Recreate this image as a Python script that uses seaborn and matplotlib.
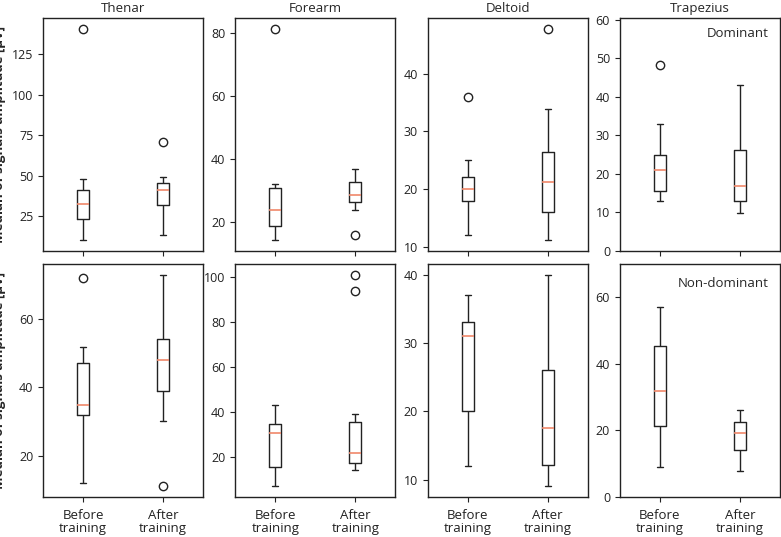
import pandas as pd
import numpy as np
import seaborn as sns
import matplotlib.pyplot as plt

muscles = ["Thenar", "Forearm", "Deltoid", "Trapezius"]
sides = ["Dominant", "Non-dominant"]
phases = ["Before training", "After training"]
phase_labels = ["Before\ntraining", "After\ntraining"]

# dominant side, amplitude samples [uV]
thenar_dom_before = [10, 15, 20, 23, 27, 30, 32.5, 35, 38, 41.2, 44, 48, 141]
thenar_dom_after = [13.4, 22, 28, 31.7, 35, 38, 41, 42.5, 44, 45.2, 47, 49, 71]
forearm_dom_before = [14.2, 16, 18, 18.9, 20.5, 22, 23.8, 26, 29, 30.9, 31.5, 32, 81.4]
forearm_dom_after = [15.8, 23.8, 25, 26.5, 27.2, 28, 28.7, 30, 31.5, 32.8, 34, 35.5, 36.8]
deltoid_dom_before = [12.1, 14, 16.5, 17.9, 18.6, 19.3, 20, 20.6, 21.3, 22, 23, 25, 36]
deltoid_dom_after = [11.1, 13, 15, 16.1, 18, 19.5, 21.2, 23, 25, 26.5, 29, 33.9, 47.8]
trapezius_dom_before = [13.1, 14, 15, 15.6, 17.5, 19, 21, 22.5, 23.8, 24.9, 28, 33, 48.2]
trapezius_dom_after = [9.8, 11, 12, 13, 14.5, 15.8, 17, 19.5, 23, 26.2, 31, 37, 43.2]

# non-dominant side
thenar_nd_before = [12, 24, 29, 32, 33, 34, 34.9, 39, 43, 47.2, 49.5, 51.8, 71.8]
thenar_nd_after = [11, 30.1, 35, 38.9, 42, 45, 48, 50, 52, 54.1, 60, 66, 72.9]
forearm_nd_before = [7, 10, 13, 15.4, 20, 26, 30.9, 32, 33.5, 34.8, 37, 40, 43.3]
forearm_nd_after = [14.1, 15.5, 16.5, 17.5, 19, 20.5, 21.6, 26, 31, 35.6, 38.9, 93.5, 100.9]
deltoid_nd_before = [12, 15, 18, 20, 24, 28, 31, 31.8, 32.5, 33, 34.5, 36, 37]
deltoid_nd_after = [9, 10.5, 11.5, 12.2, 14, 16, 17.5, 20, 23, 26, 31, 36, 40]
trapezius_nd_before = [9, 14, 18, 21.3, 25, 28.5, 31.7, 36, 41, 45.5, 50, 54, 57]
trapezius_nd_after = [7.8, 10, 12, 14.1, 16, 17.8, 19.2, 20.3, 21.5, 22.5, 24, 25.2, 26.2]

samples = {
    ("Dominant", "Thenar"): (thenar_dom_before, thenar_dom_after),
    ("Dominant", "Forearm"): (forearm_dom_before, forearm_dom_after),
    ("Dominant", "Deltoid"): (deltoid_dom_before, deltoid_dom_after),
    ("Dominant", "Trapezius"): (trapezius_dom_before, trapezius_dom_after),
    ("Non-dominant", "Thenar"): (thenar_nd_before, thenar_nd_after),
    ("Non-dominant", "Forearm"): (forearm_nd_before, forearm_nd_after),
    ("Non-dominant", "Deltoid"): (deltoid_nd_before, deltoid_nd_after),
    ("Non-dominant", "Trapezius"): (trapezius_nd_before, trapezius_nd_after),
}

yticks = {
    ("Dominant", "Thenar"): [25, 50, 75, 100, 125],
    ("Dominant", "Forearm"): [20, 40, 60, 80],
    ("Dominant", "Deltoid"): [10, 20, 30, 40],
    ("Dominant", "Trapezius"): [0, 10, 20, 30, 40, 50, 60],
    ("Non-dominant", "Thenar"): [20, 40, 60],
    ("Non-dominant", "Forearm"): [20, 40, 60, 80, 100],
    ("Non-dominant", "Deltoid"): [10, 20, 30, 40],
    ("Non-dominant", "Trapezius"): [0, 20, 40, 60],
}
trapezius_ylim = {"Dominant": (0, 60.5), "Non-dominant": (0, 70)}

rows = []
for (side, muscle), (before, after) in samples.items():
    for v in before:
        rows.append([side, muscle, phases[0], v])
    for v in after:
        rows.append([side, muscle, phases[1], v])
df = pd.DataFrame(rows, columns=["side", "muscle", "phase", "amplitude"])

sns.set_style("ticks")
plt.rcParams["font.family"] = ["Open Sans", "DejaVu Sans"]
plt.rcParams["axes.linewidth"] = 1.0

fig, axes = plt.subplots(2, 4, figsize=(7.81, 5.37), dpi=100)
fig.subplots_adjust(left=43/781, right=780/781, top=1-18/537, bottom=1-497/537,
                    wspace=0.2, hspace=0.056)

for i, side in enumerate(sides):
    for j, muscle in enumerate(muscles):
        ax = axes[i, j]
        sub = df[(df.side == side) & (df.muscle == muscle)]
        sns.boxplot(data=sub, x="phase", y="amplitude", order=phases, ax=ax,
                    width=0.15, fill=False, color="#222222", linewidth=1,
                    medianprops=dict(color="#f0876a", linewidth=1.2),
                    flierprops=dict(marker="o", markerfacecolor="none",
                                    markeredgecolor="#222222", markersize=6,
                                    markeredgewidth=1))
        ax.set_xlabel("")
        ax.set_ylabel("")
        ax.set_yticks(yticks[(side, muscle)])
        if muscle == "Trapezius":
            ax.set_ylim(*trapezius_ylim[side])
        ax.tick_params(labelsize=9, colors="#222222")
        for sp in ax.spines.values():
            sp.set_visible(True)
            sp.set_color("#222222")
        if i == 0:
            ax.set_title(muscle, fontsize=9.5, pad=4)
            ax.tick_params(labelbottom=False)
        else:
            ax.set_xticks([0, 1])
            ax.set_xticklabels(phase_labels, fontsize=9.5, linespacing=1.0)
            ax.tick_params(axis="x", pad=5)

axes[0, 3].text(0.93, 0.935, "Dominant", transform=axes[0, 3].transAxes,
                ha="right", va="center", fontsize=9.5)
axes[1, 3].text(0.93, 0.917, "Non-dominant", transform=axes[1, 3].transAxes,
                ha="right", va="center", fontsize=9.5)

for i in range(2):
    pos = axes[i, 0].get_position()
    fig.text(0.008, (pos.y0 + pos.y1) / 2, "Median of signals amplitude [µV]",
             rotation=90, ha="right", va="center", fontsize=9.5, fontweight="bold")

fig.savefig("out.png", dpi=100)
